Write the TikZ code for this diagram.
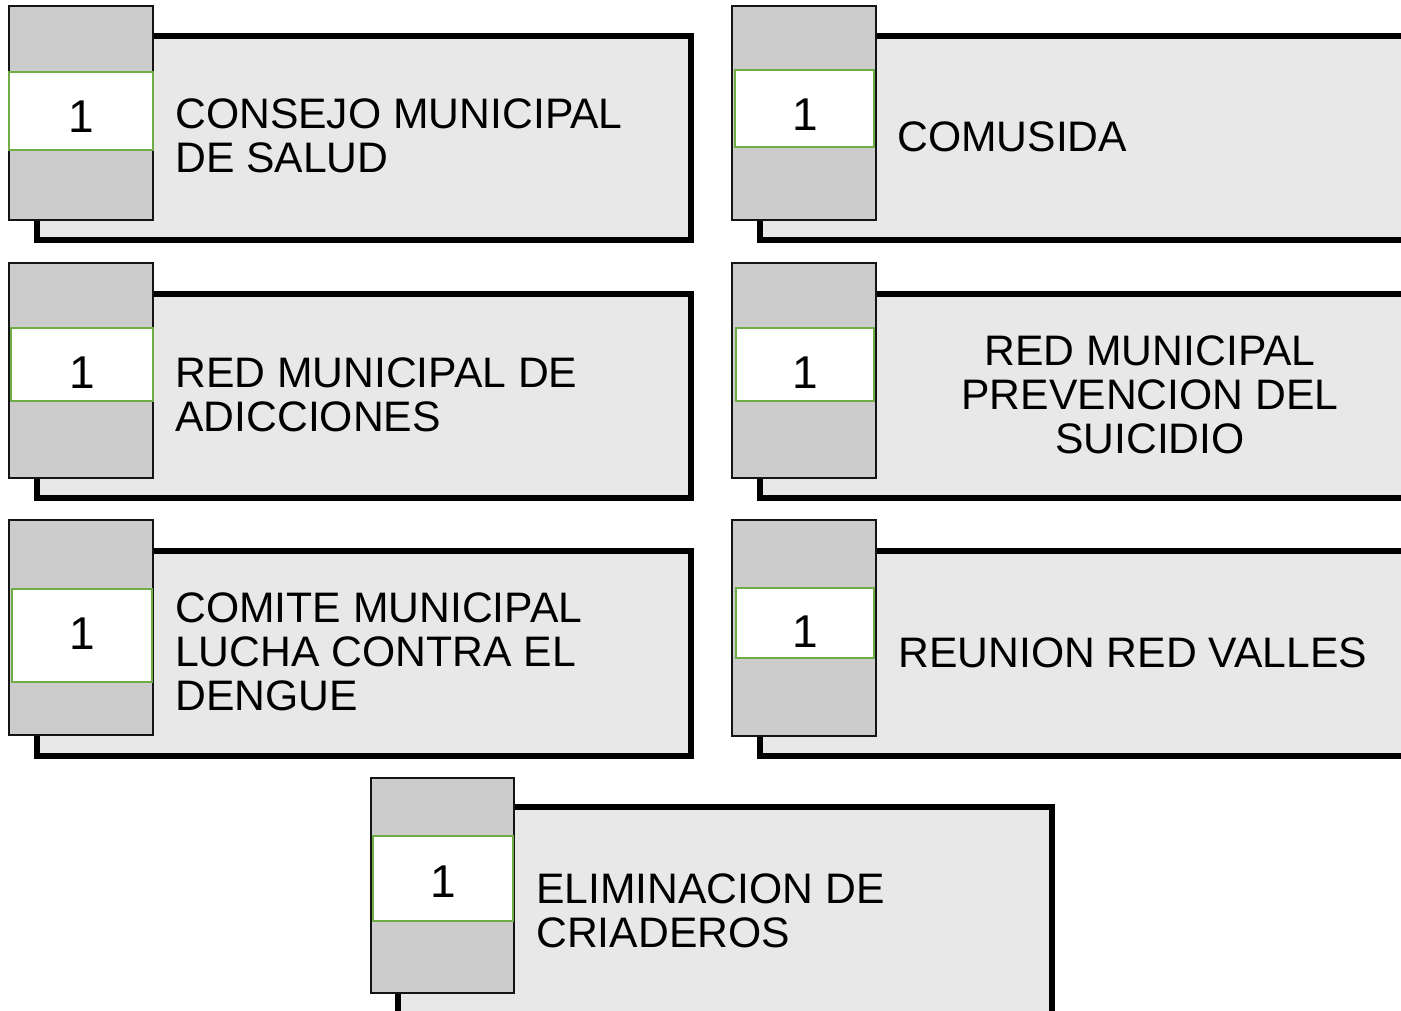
\documentclass[tikz,border=0pt]{standalone}
\usepackage{fontspec}
\setmainfont{Liberation Sans}
\usepackage{tikz}

\begin{document}
\begin{tikzpicture}[x=0.75pt,y=0.75pt,yscale=-1,xscale=1,
  panel/.style={draw=black,fill={rgb,255:red,232;green,232;blue,232},line width=4.5pt},
  tabbar/.style={draw={rgb,255:red,20;green,20;blue,20},fill={rgb,255:red,204;green,204;blue,204},line width=1.5pt},
  numbox/.style={draw={rgb,255:red,112;green,173;blue,71},fill=white,line width=1.8pt},
  numtext/.style={inner sep=0pt,font=\fontsize{34.5}{36}\selectfont},
  itemtext/.style={inner sep=0pt,align=left,font=\fontsize{32}{33}\selectfont}]
%set diagram size 1401 x 1010
\clip (0,0) rectangle (1401,1010);

%Card: Consejo municipal de salud
\draw [panel] (37,35.5) rectangle (691,240) ;
\draw [tabbar] (9,6) rectangle (153,220) ;
\draw [numbox] (9,72) rectangle (153,150) ;
\node [numtext] (num1) at (81,117) {1};
\node [itemtext,anchor=base west] (item1) at (175,172) {CONSEJO MUNICIPAL\\DE SALUD};

%Card: Comusida
\draw [panel] (760,35.5) rectangle (1416,240) ;
\draw [tabbar] (732,6) rectangle (876,220) ;
\draw [numbox] (735,70) rectangle (874,147) ;
\node [numtext] (num2) at (805,115) {1};
\node [itemtext,anchor=base west] (item2) at (897,151) {COMUSIDA};

%Card: Red municipal de adicciones
\draw [panel] (37,293.5) rectangle (691,497.5) ;
\draw [tabbar] (9,263) rectangle (153,478) ;
\draw [numbox] (11,328) rectangle (153,401) ;
\node [numtext] (num3) at (82,373) {1};
\node [itemtext,anchor=base west] (item3) at (175,431) {RED MUNICIPAL DE\\ADICCIONES};

%Card: Red municipal prevencion del suicidio
\draw [panel] (760,293.5) rectangle (1416,497.5) ;
\draw [tabbar] (732,263) rectangle (876,478) ;
\draw [numbox] (736,328) rectangle (874,401) ;
\node [numtext] (num4) at (805,373) {1};
\node [itemtext,align=center,anchor=base] (item4) at (1150,453) {RED MUNICIPAL\\PREVENCION DEL\\SUICIDIO};

%Card: Comite municipal lucha contra el dengue
\draw [panel] (37,550.5) rectangle (691,755.5) ;
\draw [tabbar] (9,520) rectangle (153,735) ;
\draw [numbox] (12,589) rectangle (152,682) ;
\node [numtext] (num5) at (82,634) {1};
\node [itemtext,anchor=base west] (item5) at (175,710) {COMITE MUNICIPAL\\LUCHA CONTRA EL\\DENGUE};

%Card: Reunion red valles
\draw [panel] (760,550.5) rectangle (1416,755.5) ;
\draw [tabbar] (732,520) rectangle (876,736) ;
\draw [numbox] (736,588) rectangle (874,658) ;
\node [numtext] (num6) at (805,632) {1};
\node [itemtext,anchor=base west] (item6) at (898,667) {REUNION RED VALLES};

%Card: Eliminacion de criaderos
\draw [panel] (398,807) rectangle (1052,1014) ;
\draw [tabbar] (371,778) rectangle (514,993) ;
\draw [numbox] (373,836) rectangle (513,921) ;
\node [numtext] (num7) at (443,882) {1};
\node [itemtext,anchor=base west] (item7) at (536,947) {ELIMINACION DE\\CRIADEROS};

\end{tikzpicture}
\end{document}
